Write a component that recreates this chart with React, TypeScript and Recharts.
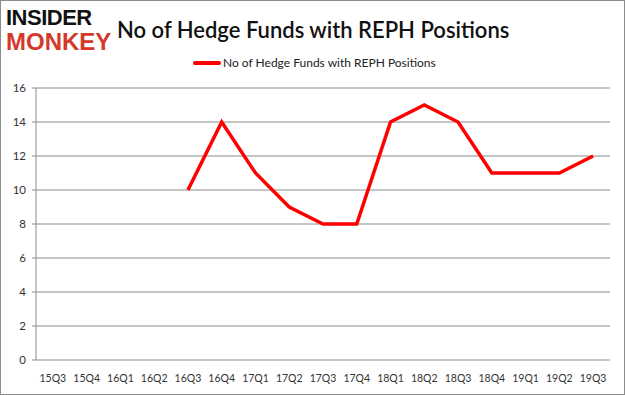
import React from "react";
import { LineChart, Line, XAxis, YAxis, CartesianGrid } from "recharts";

const quarters = [
    "15Q3", "15Q4", "16Q1", "16Q2", "16Q3", "16Q4", "17Q1", "17Q2", "17Q3",
    "17Q4", "18Q1", "18Q2", "18Q3", "18Q4", "19Q1", "19Q2", "19Q3",
];
const funds: (number | null)[] = [
    null, null, null, null, 10, 14, 11, 9, 8, 8, 14, 15, 14, 11, 11, 11, 12,
];
const yTicks = [0, 2, 4, 6, 8, 10, 12, 14, 16];

const seriesName = "No of Hedge Funds with REPH Positions";

const data = quarters.map((q, i) => ({ q, pos: i + 0.5, value: funds[i] }));
const bounds = quarters.map((_, i) => i).concat([quarters.length]);

const App: React.FC = () => {
    return (
        <div
            style={{
                position: "absolute",
                left: 0,
                top: 0,
                width: 625,
                height: 395,
                background: "#fff",
                boxSizing: "border-box",
                border: "1px solid #8c8c8c",
                fontFamily: "Lato, 'Open Sans', sans-serif",
            }}
        >
            <div style={{ position: "absolute", left: 5, top: 6, lineHeight: 1, fontFamily: "'Liberation Sans', Arial, sans-serif", fontWeight: 900 }}>
                <div style={{ fontSize: 22, color: "#111", letterSpacing: -0.5 }}>INSIDER</div>
                <div style={{ fontSize: 24, color: "#d5392a", letterSpacing: 0, marginTop: 1 }}>MONKEY</div>
            </div>
            <div
                style={{
                    position: "absolute",
                    left: 116,
                    top: 15,
                    fontSize: 22,
                    fontWeight: 600,
                    color: "#111",
                    whiteSpace: "nowrap",
                }}
            >
                {seriesName}
            </div>
            <div style={{ position: "absolute", left: 192, top: 54, display: "flex", alignItems: "center" }}>
                <div style={{ width: 28, height: 4, background: "#ff0000", borderRadius: 2 }} />
                <span style={{ fontSize: 12, color: "#222", marginLeft: 2 }}>{seriesName}</span>
            </div>
            <LineChart
                width={625}
                height={395}
                data={data}
                margin={{ top: 88, right: 15, bottom: 0, left: 0 }}
                style={{ position: "absolute", left: -1, top: -1 }}
            >
                <CartesianGrid vertical={false} stroke="#8c8c8c" strokeWidth={1} />
                <XAxis
                    xAxisId="lbl"
                    dataKey="pos"
                    type="number"
                    domain={[0, quarters.length]}
                    ticks={data.map((d) => d.pos)}
                    tickFormatter={(v: number) => quarters[Math.floor(v)]}
                    interval={0}
                    axisLine={false}
                    tickLine={false}
                    height={35}
                    tick={{ fill: "#333", fontSize: 10.5, fontFamily: "Lato, sans-serif" }}
                    tickMargin={9}
                />
                <XAxis
                    xAxisId="grid"
                    dataKey="pos"
                    type="number"
                    domain={[0, quarters.length]}
                    ticks={bounds}
                    interval={0}
                    tick={false}
                    axisLine={{ stroke: "#8c8c8c" }}
                    tickLine={{ stroke: "#8c8c8c" }}
                    tickSize={5}
                    height={0}
                />
                <YAxis
                    domain={[0, 16]}
                    ticks={yTicks}
                    interval={0}
                    width={36}
                    axisLine={{ stroke: "#8c8c8c" }}
                    tickLine={{ stroke: "#8c8c8c" }}
                    tickSize={4}
                    tickMargin={6}
                    tick={{ fill: "#333", fontSize: 11.5, fontFamily: "Lato, sans-serif" }}
                />
                <Line
                    xAxisId="lbl"
                    dataKey="value"
                    stroke="#ff0000"
                    strokeWidth={3.5}
                    dot={false}
                    isAnimationActive={false}
                    connectNulls={false}
                />
            </LineChart>
        </div>
    );
};

export default App;
